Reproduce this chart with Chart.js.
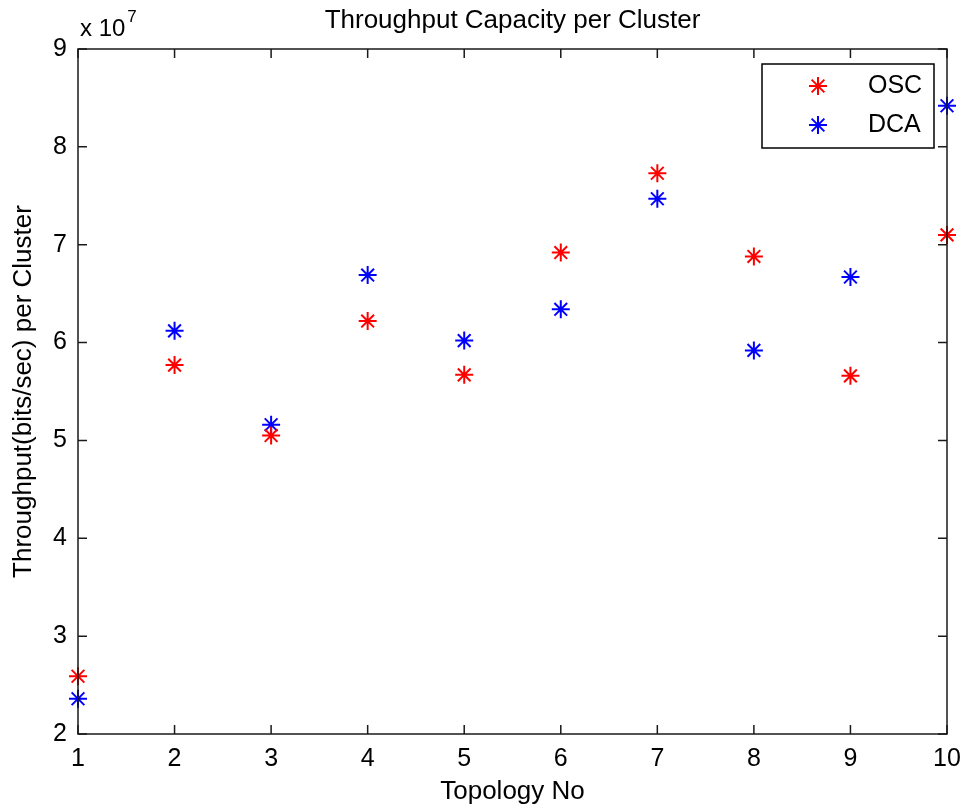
<!DOCTYPE html>
<html>
<head>
<meta charset="utf-8">
<script src="https://cdn.jsdelivr.net/npm/chart.js@4.4.1/dist/chart.umd.min.js"></script>
<style>
  html, body { margin: 0; padding: 0; background: #fff; }
  canvas { display: block; }
</style>
</head>
<body>
<canvas id="tputChart" width="966" height="812"></canvas>
<script>
// values (bits/sec)
const topology = [1, 2, 3, 4, 5, 6, 7, 8, 9, 10];
const oscValues = [2.59e7, 5.77e7, 5.05e7, 6.22e7, 5.67e7, 6.92e7, 7.73e7, 6.88e7, 5.66e7, 7.10e7];
const dcaValues = [2.36e7, 6.12e7, 5.16e7, 6.69e7, 6.02e7, 6.34e7, 7.47e7, 5.92e7, 6.67e7, 8.42e7];
const seriesNames = ["OSC", "DCA"];
const xTicks = [1, 2, 3, 4, 5, 6, 7, 8, 9, 10];
const yTicks = [2e7, 3e7, 4e7, 5e7, 6e7, 7e7, 8e7, 9e7];
const chartTitle = "Throughput Capacity per Cluster";

const FONT = "'Liberation Sans', Arial, Helvetica, sans-serif";

function toPoints(vals) {
    return topology.map((t, i) => ({ x: t, y: vals[i] }));
}

// box, inward ticks, title, exponent label and legend, like the matlab axes
const matlabAxes = {
    id: "matlabAxes",
    afterDraw(chart) {
        const ctx = chart.ctx;
        const a = chart.chartArea;
        const xs = chart.scales.x, ys = chart.scales.y;
        const tl = 9;

        ctx.save();
        ctx.strokeStyle = "#1a1a1a";
        ctx.lineWidth = 1.5;
        ctx.strokeRect(a.left, a.top, a.right - a.left, a.bottom - a.top);

        ctx.beginPath();
        xTicks.forEach(v => {
            const px = xs.getPixelForValue(v);
            ctx.moveTo(px, a.bottom); ctx.lineTo(px, a.bottom - tl);
            ctx.moveTo(px, a.top); ctx.lineTo(px, a.top + tl);
        });
        yTicks.forEach(v => {
            const py = ys.getPixelForValue(v);
            ctx.moveTo(a.left, py); ctx.lineTo(a.left + tl, py);
            ctx.moveTo(a.right, py); ctx.lineTo(a.right - tl, py);
        });
        ctx.stroke();

        // title centred over the axes
        ctx.fillStyle = "#000";
        ctx.textAlign = "center";
        ctx.textBaseline = "middle";
        ctx.font = "26px " + FONT;
        ctx.fillText(chartTitle, (a.left + a.right) / 2, 21);

        // "x 10^7"
        ctx.textBaseline = "alphabetic";
        ctx.textAlign = "left";
        ctx.font = "24px " + FONT;
        ctx.fillText("x 10", a.left + 2, a.top - 13);
        const w = ctx.measureText("x 10").width;
        ctx.font = "17px " + FONT;
        ctx.fillText("7", a.left + 4 + w, a.top - 27);

        // legend box in the top right corner
        const bx = 762, by = 64, bw = 172, bh = 84;
        ctx.fillStyle = "#fff";
        ctx.fillRect(bx, by, bw, bh);
        ctx.strokeStyle = "#000";
        ctx.lineWidth = 1.5;
        ctx.strokeRect(bx, by, bw, bh);
        ctx.font = "25px " + FONT;
        ctx.textBaseline = "middle";
        chart.data.datasets.forEach((ds, i) => {
            const cy = by + 22 + i * 39;
            ctx.strokeStyle = ds.borderColor;
            ctx.lineWidth = ds.borderWidth;
            Chart.helpers.drawPoint(ctx, { pointStyle: "star", radius: ds.pointRadius, borderWidth: ds.borderWidth, rotation: 0 }, bx + 56, cy);
            ctx.fillStyle = "#000";
            ctx.fillText(ds.label, bx + 106, cy);
        });
        ctx.restore();
    }
};

const ctx = document.getElementById("tputChart").getContext("2d");
const chart = new Chart(ctx, {
    type: "scatter",
    data: {
        datasets: [
            {
                label: seriesNames[0],
                data: toPoints(oscValues),
                pointStyle: "star",
                pointRadius: 9,
                borderColor: "#ff0000",
                backgroundColor: "#ff0000",
                borderWidth: 2,
                clip: false
            },
            {
                label: seriesNames[1],
                data: toPoints(dcaValues),
                pointStyle: "star",
                pointRadius: 9,
                borderColor: "#0000ff",
                backgroundColor: "#0000ff",
                borderWidth: 2,
                clip: false
            }
        ]
    },
    options: {
        responsive: false,
        animation: false,
        layout: { padding: { left: 0, right: 19, top: 49, bottom: 0 } },
        plugins: {
            legend: { display: false },
            tooltip: { enabled: false },
            title: { display: false }
        },
        scales: {
            x: {
                type: "linear",
                min: 1,
                max: 10,
                afterBuildTicks: s => { s.ticks = xTicks.map(v => ({ value: v })); },
                afterFit: s => { s.height = 78; s.paddingLeft = 0; s.paddingRight = 0; },
                grid: { display: false, drawTicks: false },
                border: { display: false },
                ticks: { color: "#000", padding: 10, font: { family: FONT, size: 25 } },
                title: {
                    display: true,
                    text: "Topology No",
                    color: "#000",
                    font: { family: FONT, size: 26 },
                    padding: { top: 0, bottom: 5 }
                }
            },
            y: {
                type: "linear",
                min: 2e7,
                max: 9e7,
                afterBuildTicks: s => { s.ticks = yTicks.map(v => ({ value: v })); },
                afterFit: s => { s.width = 78; s.paddingTop = 0; s.paddingBottom = 0; },
                grid: { display: false, drawTicks: false },
                border: { display: false },
                ticks: {
                    color: "#000",
                    padding: 11,
                    font: { family: FONT, size: 25 },
                    callback: v => String(v / 1e7)
                },
                title: {
                    display: true,
                    text: "Throughput(bits/sec) per Cluster",
                    color: "#000",
                    font: { family: FONT, size: 26 },
                    padding: { top: 8, bottom: 0 }
                }
            }
        }
    },
    plugins: [matlabAxes]
});
</script>
</body>
</html>
